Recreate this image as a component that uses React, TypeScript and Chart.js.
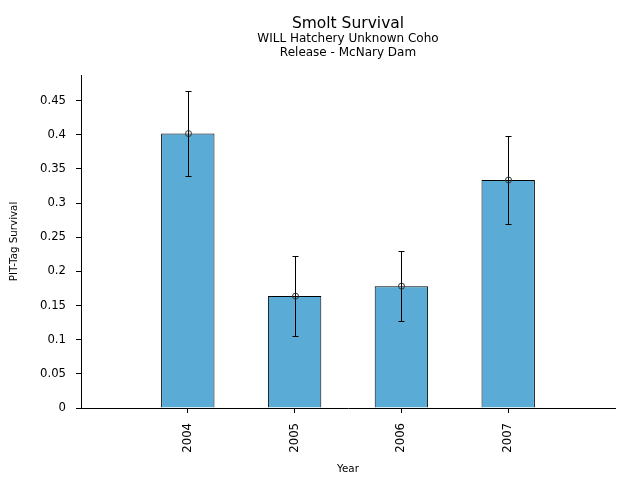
import React, { useEffect, useRef } from "react";
import { Chart, registerables } from "chart.js";

Chart.register(...registerables);

const YEARS = ["2004", "2005", "2006", "2007"];
const SURVIVAL = [0.4017, 0.1638, 0.1784, 0.3338];
const LOWER = [0.3397, 0.105, 0.127, 0.269];
const UPPER = [0.464, 0.2224, 0.2297, 0.398];
const TITLE = "Smolt Survival";
const SUBTITLE = ["WILL Hatchery Unknown Coho", "Release - McNary Dam"];
const Y_TITLE = "PIT-Tag Survival";
const X_TITLE = "Year";

const FONT = "'DejaVu Sans', sans-serif";

const errorBarPlugin = {
  id: "errorBars",
  afterDatasetsDraw(chart: any) {
    const { ctx, scales } = chart;
    const xs = scales.x;
    const ys = scales.y;
    ctx.save();
    ctx.lineWidth = 1;
    for (let i = 0; i < SURVIVAL.length; i++) {
      const x = Math.round(xs.getPixelForValue(i)) + 0.5;
      const yl = Math.round(ys.getPixelForValue(LOWER[i])) + 0.5;
      const yu = Math.round(ys.getPixelForValue(UPPER[i])) + 0.5;
      ctx.strokeStyle = "#000";
      ctx.beginPath();
      ctx.moveTo(x, yl);
      ctx.lineTo(x, yu);
      ctx.moveTo(x - 3, yl);
      ctx.lineTo(x + 3, yl);
      ctx.moveTo(x - 3, yu);
      ctx.lineTo(x + 3, yu);
      ctx.stroke();
      const yv = ys.getPixelForValue(SURVIVAL[i]);
      ctx.beginPath();
      ctx.strokeStyle = "#333";
      ctx.arc(x, yv, 3, 0, Math.PI * 2);
      ctx.stroke();
    }
    ctx.restore();
  },
};

const titlePlugin = {
  id: "customTitle",
  afterDraw(chart: any) {
    const { ctx, chartArea } = chart;
    const cx = (chartArea.left + chartArea.right) / 2;
    ctx.save();
    ctx.fillStyle = "#000";
    ctx.textAlign = "center";
    ctx.textBaseline = "middle";
    ctx.font = `15.5px ${FONT}`;
    ctx.fillText(TITLE, cx, 23.5);
    ctx.font = `12px ${FONT}`;
    ctx.fillText(SUBTITLE[0], cx, 39);
    ctx.fillText(SUBTITLE[1], cx, 53);
    ctx.restore();
  },
};

export default function App() {
  const ref = useRef<HTMLCanvasElement | null>(null);
  useEffect(() => {
    if (!ref.current) return;
    const chart = new Chart(ref.current, {
      type: "bar",
      data: {
        datasets: [
          {
            data: SURVIVAL.map((v, i) => ({ x: i, y: v })),
            backgroundColor: "#5aacd6",
            borderColor: "#000",
            borderWidth: 1,
            categoryPercentage: 1,
            barPercentage: 0.5,
          } as any,
        ],
      },
      options: {
        animation: false,
        responsive: true,
        maintainAspectRatio: false,
        layout: { padding: { top: 75, right: 25, left: 0, bottom: 0 } },
        plugins: {
          legend: { display: false },
          tooltip: { enabled: false },
          title: { display: false },
        },
        scales: {
          x: {
            type: "linear",
            min: -1,
            max: 4,
            offset: false,
            afterBuildTicks(scale: any) {
              scale.ticks = YEARS.map((_, i) => ({ value: i }));
            },
            afterFit(scale: any) {
              scale.height = 72;
            },
            ticks: {
              callback: (v: any) => YEARS[v as number] ?? "",
              minRotation: 90,
              maxRotation: 90,
              autoSkip: false,
              padding: 10,
              color: "#000",
              font: { family: FONT, size: 11.7 },
            },
            grid: {
              offset: false,
              drawOnChartArea: false,
              drawTicks: true,
              tickLength: 5,
              color: "#000",
            },
            border: { display: true, color: "#000", width: 1 },
            title: {
              display: true,
              text: X_TITLE,
              color: "#000",
              font: { family: FONT, size: 10.3 },
              padding: { top: 0, bottom: 4.4 },
            },
          },
          y: {
            min: 0,
            max: 0.4875,
            afterFit(scale: any) {
              scale.width = 81;
            },
            ticks: {
              stepSize: 0.05,
              includeBounds: false,
              padding: 10,
              color: "#000",
              font: { family: FONT, size: 11.7 },
              callback: (v: any) => String(+Number(v).toFixed(2)),
            },
            grid: {
              drawOnChartArea: false,
              drawTicks: true,
              tickLength: 5,
              color: "#000",
            },
            border: { display: true, color: "#000", width: 1 },
            title: {
              display: true,
              text: Y_TITLE,
              color: "#000",
              font: { family: FONT, size: 10.3 },
              padding: { top: 8.4, bottom: 0 },
            },
          },
        },
      } as any,
      plugins: [errorBarPlugin, titlePlugin],
    });
    return () => chart.destroy();
  }, []);
  return (
    <div style={{ position: "fixed", left: 0, top: 0, width: 640, height: 480, background: "#fff" }}>
      <canvas ref={ref} />
    </div>
  );
}
